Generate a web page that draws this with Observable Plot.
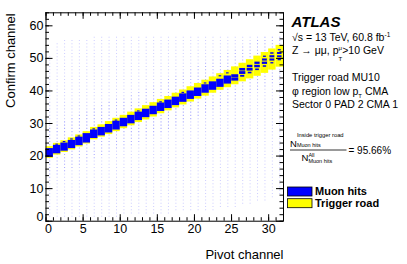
<!DOCTYPE html>
<html><head><meta charset="utf-8">
<script src="https://cdn.jsdelivr.net/npm/d3@7"></script>
<script src="https://cdn.jsdelivr.net/npm/@observablehq/plot@0.6"></script>
<style>body{margin:0;background:#fff}#c{width:407px;height:264px;overflow:hidden}</style>
</head><body><div id="c"></div>
<script>
// ---- data ----
const pivots = d3.range(32);
// trigger road (yellow), confirm-channel extent per pivot channel
const roadBot = [19.3,20.3,21.1,21.9,22.8,23.7,25.0,25.8,26.6,27.5,28.4,29.3,30.3,31.1,32.0,33.0,33.9,34.8,35.7,36.6,37.5,38.4,39.3,40.2,41.0,41.9,42.8,43.7,44.5,45.4,46.4,47.3];
const roadTop = [22.9,23.9,24.7,25.6,26.5,27.5,28.8,29.6,30.6,31.6,32.5,33.5,34.5,35.5,36.4,37.4,38.3,39.3,40.3,41.3,42.3,43.3,44.3,45.3,46.3,47.4,48.5,49.6,50.7,51.8,52.9,54.0];
// dense muon-hit band, pivot channels 0-24
const bandPivot = d3.range(25);
const blueBot = [19.6,20.7,21.5,22.3,23.2,24.0,25.4,26.2,27.1,28.0,29.0,29.9,30.9,31.8,32.7,33.7,34.6,35.5,36.5,37.4,38.3,39.3,40.2,41.1,42.1];
const blueTop = [22.3,23.3,24.0,24.8,25.8,26.9,28.0,28.8,29.7,30.7,31.6,32.5,33.5,34.4,35.3,36.3,37.2,38.1,39.1,40.0,40.9,41.9,42.8,43.6,44.6];
// individual muon-hit boxes (pivot, confirm, relative box size)
const cellP = [25,25,26,26,26,27,27,27,28,28,28,29,29,29,29,30,30,30,30,31,31,31,31, 1,2,3,4,6,9,12,15,18,21,23,24];
const cellC = [43,44,45,46,44,46,47,45,47,48,46,48,49,47,50,49,50,51,48,50,51,49,52, 23,23.8,24.6,25.5,27.7,30.4,33.2,36,38.9,41.8,44,44.9];
const cellS = [0.95,0.95,0.85,0.8,0.55,0.8,0.75,0.5,0.75,0.7,0.5,0.7,0.65,0.45,0.4,0.65,0.65,0.45,0.4,0.6,0.6,0.45,0.4, 0.35,0.35,0.35,0.35,0.35,0.35,0.35,0.35,0.35,0.35,0.35,0.35];
// sparse low-count hits: confirm-channel extent per pivot column
const noiseLo = [1,1,1,1,1,1,1,1,1,1,2,2,2,2,2,2,2,3,3,3,3,3,3,4,4,4,5,5,6,6,7,8];
const noiseHi = [50,54,55,55,55,55,56,56,56,56,56,56,56,56,56,56,56,56,56,56,56,56,56,56,56,56,56,56,56,56,56,56];
const xMajor = [0,5,10,15,20,25,30];
const xMinor = d3.range(0,33);
const yMajor = [0,10,20,30,40,50,60];
const yMinor = d3.range(0,65,2);

// ---- derived tables ----
const road = pivots.map(p => ({p, lo: roadBot[p], hi: roadTop[p]}));
const band = bandPivot.map(p => ({p, lo: blueBot[p], hi: blueTop[p]}));
const cells = cellP.map((p, i) => ({p, c: cellC[i], s: cellS[i]}));
const noise = [];
pivots.forEach(p => {
  const mid = (roadBot[p] + roadTop[p]) / 2;
  for (let c = noiseLo[p]; c <= noiseHi[p]; c++) noise.push({p, c, near: Math.abs(c + 0.5 - mid) < 8});
});

const W = 407, H = 264, mL = 45.5, mR = 124, mT = 12.3, mB = 43.3;
const iW = W - mL - mR, iH = H - mT - mB;
const font = "'Liberation Sans', Arial, Helvetica, sans-serif";

const chart = Plot.plot({
  width: W, height: H,
  marginLeft: mL, marginRight: mR, marginTop: mT, marginBottom: mB,
  x: {domain: [0, 32]},
  y: {domain: [0, 64]},
  style: {fontFamily: font, background: "white", color: "black"},
  marks: [
    Plot.dot(noise, {x: d => d.p + 0.5, y: d => d.c + 0.5, symbol: "square", r: 0.6,
      fill: "#6f6fff", fillOpacity: d => d.near ? 0.6 : 0.33, stroke: "none"}),
    Plot.rect(road, {x1: d => d.p, x2: d => d.p + 1, y1: "lo", y2: "hi", fill: "#ffff00"}),
    Plot.rect(band, {x1: d => d.p, x2: d => d.p + 1, y1: "lo", y2: "hi", fill: "#0000ff"}),
    Plot.rect(cells, {x1: d => d.p + 0.5 - d.s/2, x2: d => d.p + 0.5 + d.s/2,
      y1: d => d.c + 0.5 - d.s/2, y2: d => d.c + 0.5 + d.s/2, fill: "#0000ee"}),
    // ticks (inward, ROOT style, on all four sides)
    Plot.tickX(xMinor, {x: d => d, insetTop: iH - 3.5, stroke: "black"}),
    Plot.tickX(xMajor, {x: d => d, insetTop: iH - 6.5, stroke: "black"}),
    Plot.tickX(xMinor, {x: d => d, insetBottom: iH - 3.5, stroke: "black"}),
    Plot.tickX(xMajor, {x: d => d, insetBottom: iH - 6.5, stroke: "black"}),
    Plot.tickY(yMinor, {y: d => d, insetRight: iW - 3.5, stroke: "black"}),
    Plot.tickY(yMajor, {y: d => d, insetRight: iW - 7, stroke: "black"}),
    Plot.tickY(yMinor, {y: d => d, insetLeft: iW - 3.5, stroke: "black"}),
    Plot.tickY(yMajor, {y: d => d, insetLeft: iW - 7, stroke: "black"}),
    Plot.frame({stroke: "black"}),
    Plot.axisX(xMajor.slice(1), {tickSize: 0, tickPadding: 3, fontSize: 12.5, label: null}),
    Plot.text([0], {x: d => d, frameAnchor: "bottom", lineAnchor: "top", dy: 3, dx: 2.5, text: d => String(d), fontSize: 12.5}),
    Plot.axisY(yMajor.slice(1), {tickSize: 0, tickPadding: 2.5, fontSize: 12.5, label: null}),
    Plot.text([0], {y: d => d, frameAnchor: "left", textAnchor: "end", dx: -2.5, dy: -4.5, text: d => String(d), fontSize: 12.5}),
    Plot.text(["Pivot channel"], {frameAnchor: "bottom-right", textAnchor: "end", lineAnchor: "middle", dy: 33.5, fontSize: 13}),
    Plot.text(["Confirm channel"], {frameAnchor: "top-left", textAnchor: "end", lineAnchor: "middle", rotate: -90, dx: -34.7, dy: 0.5, fontSize: 13})
  ]
});
document.getElementById("c").appendChild(chart);

// ---- annotation panel ----
const svg = d3.select(chart);
const g = svg.append("g").attr("font-family", font).attr("fill", "black").attr("text-anchor", "start");
function run(x, y, pieces) {
  let cx = x, lastW = 0;
  pieces.forEach(([str, dy, size, opt]) => {
    const t = g.append("text").attr("text-anchor", "start").attr("x", cx).attr("y", y + dy).attr("font-size", size).text(str);
    if (opt && opt.bold) t.attr("font-weight", "bold");
    const w = t.node().getComputedTextLength();
    if (opt && opt.stack) { lastW = w; }
    else { cx += Math.max(w, lastW); lastW = 0; }
  });
}
g.append("text").attr("text-anchor", "start").attr("x", 291.5).attr("y", 27).attr("font-size", 15).attr("font-weight", "bold")
  .attr("font-style", "italic").text("ATLAS");
run(292, 40.8, [["\u221As = 13 TeV, 60.8 fb", 0, 10.5], ["-1", -4.2, 6.5]]);
run(292, 54.2, [["Z \u2192 \u03bc\u03bc, p", 0, 10.5], ["\u03bc", -4, 6, {stack: true}], ["T", 7, 6], [">10 GeV", 0, 10.5]]);
run(292, 80.8, [["Trigger road MU10", 0, 10.5]]);
run(292, 94.8, [["\u03c6 region low p", 0, 10.5], ["T", 3, 6], [" CMA", 0, 10.5]]);
run(292, 107.8, [["Sector 0 PAD 2 CMA 1", 0, 10.5]]);
// fraction
run(290, 146.7, [["N", 0, 9.5], ["Inside trigger road", -10, 5.8, {stack: true}], ["Muon hits", 0.5, 5.5]]);
g.append("line").attr("x1", 290).attr("x2", 346.5).attr("y1", 150).attr("y2", 150).attr("stroke", "black").attr("stroke-width", 0.8);
run(348.5, 153.5, [["= 95.66%", 0, 10]]);
run(301.5, 160.6, [["N", 0, 9.5], ["All", -4, 5.5, {stack: true}], ["Muon hits", 2.8, 5.5]]);
// legend
g.append("rect").attr("x", 287.5).attr("y", 187).attr("width", 24.5).attr("height", 9).attr("fill", "#0000ff").attr("stroke", "black").attr("stroke-width", 0.8);
g.append("rect").attr("x", 287.5).attr("y", 198.7).attr("width", 24.5).attr("height", 9).attr("fill", "#ffff00").attr("stroke", "black").attr("stroke-width", 0.8);
run(315, 195.3, [["Muon hits", 0, 11, {bold: true}]]);
run(315, 206.8, [["Trigger road", 0, 11, {bold: true}]]);
</script></body></html>
